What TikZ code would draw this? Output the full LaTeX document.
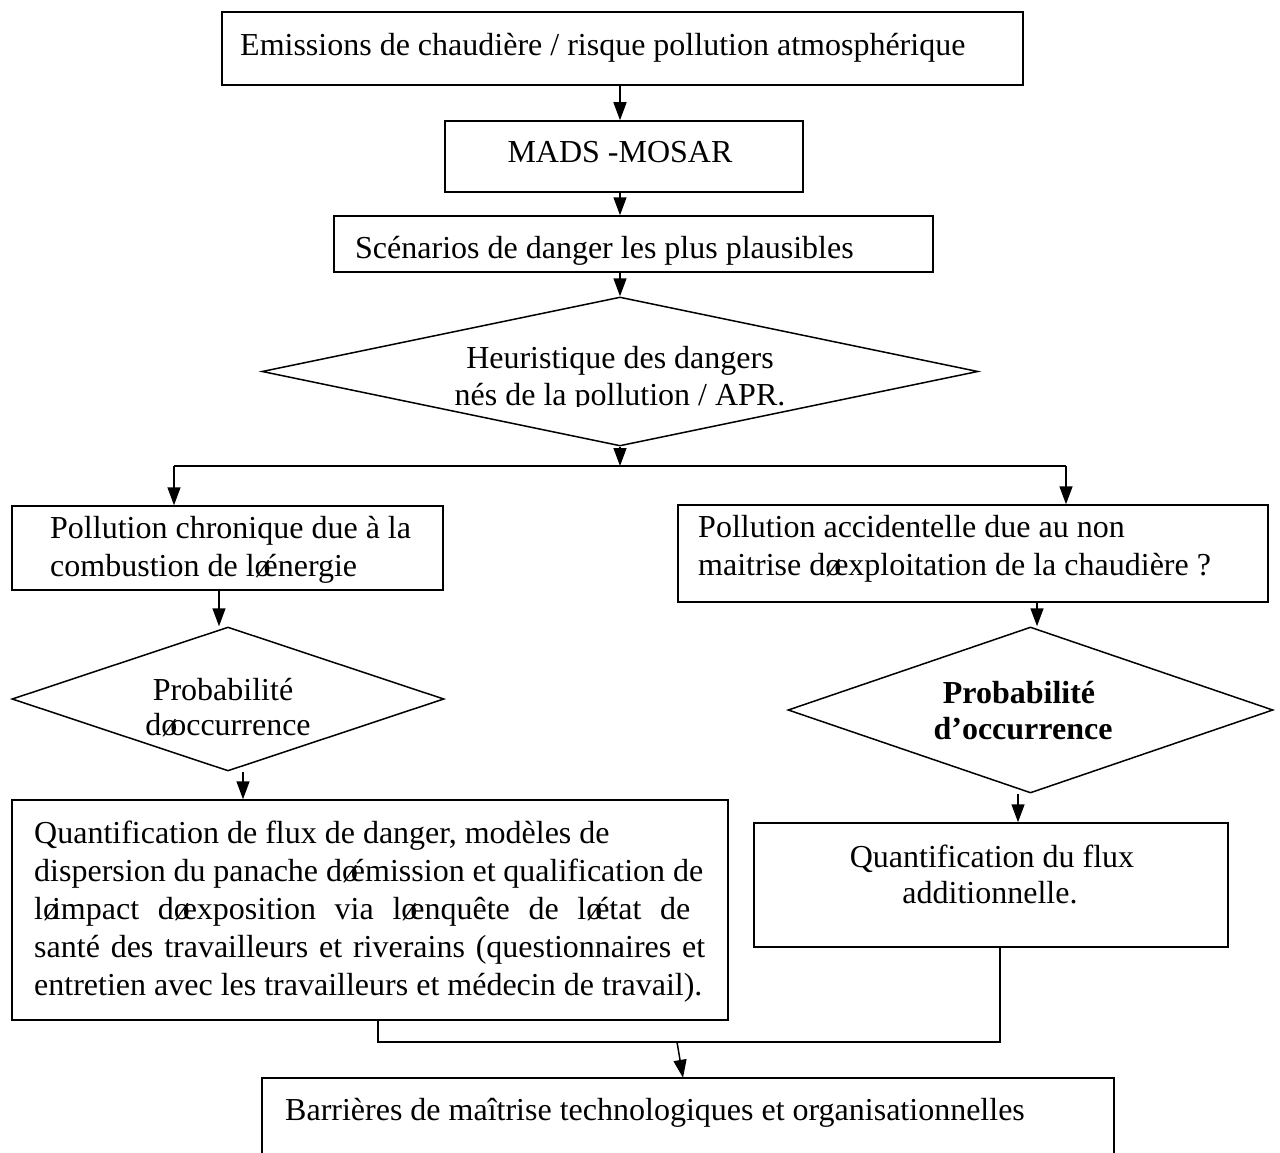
\documentclass[tikz,border=0pt]{standalone}
\usepackage{fontspec}
\setmainfont{Liberation Serif}
\usetikzlibrary{shapes.geometric,arrows.meta}
% slashed-o glyph standing in for the apostrophe, overlapping the next letter
\newcommand\qap{ø\kern-.22em}
\begin{document}
\begin{tikzpicture}[x=1pt,y=-1pt,
  box/.style={draw,line width=1.5pt,rectangle,inner sep=0pt},
  dia/.style={draw,line width=1.5pt,diamond,inner sep=0pt},
  line/.style={line width=1.5pt},
  arr/.style={line width=1.5pt,-{Triangle[width=13pt,length=18pt]}},
  txt/.style={inner sep=0pt,font=\fontsize{32}{38}\selectfont},
]
\useasboundingbox (0,0) rectangle (1280,1153);

% boxes and decisions
\node[box,minimum width=801pt,minimum height=73pt] (b1) at (622.5,48.5) {};
\node[box,minimum width=358pt,minimum height=71pt] (b2) at (624,156.5) {};
\node[box,minimum width=599pt,minimum height=56pt] (b3) at (633.5,244) {};
\node[dia,minimum width=716pt,minimum height=149pt] (d1) at (620,371.5) {};
\node[box,minimum width=431pt,minimum height=84pt] (bA) at (227.5,548) {};
\node[box,minimum width=590pt,minimum height=97pt] (bB) at (973,553.5) {};
\node[dia,minimum width=432pt,minimum height=144pt] (d2) at (228,699) {};
\node[dia,minimum width=485pt,minimum height=166pt] (d3) at (1030.5,710) {};
\node[box,minimum width=716pt,minimum height=220pt] (bC) at (370,910) {};
\node[box,minimum width=474pt,minimum height=124pt] (bD) at (991,885) {};
\node[inner sep=0pt,minimum width=852pt,minimum height=75pt] (bE) at (688,1115.5) {};
\draw[line] (bE.south west) |- (bE.north east) -- (bE.south east);

% texts
\node[txt,anchor=base west] (t1) at (240,56) {Emissions de chaudière / risque pollution atmosphérique};
\node[txt,anchor=base] (t2) at (620,163) {MADS -MOSAR};
\node[txt,anchor=base west] (t3) at (355,258) {Scénarios de danger les plus plausibles};
\node[txt,anchor=base] (t4) at (620,368) {Heuristique des dangers};
\begin{scope}
  \clip (262,300) rectangle (978,406);
  \node[txt,anchor=base] (t5) at (620,405) {nés de la pollution / APR.};
\end{scope}
\node[txt,anchor=base west] (tA1) at (50,538) {Pollution chronique due à la};
\node[txt,anchor=base west] (tA2) at (50,576) {combustion de l\qap énergie};
\node[txt,anchor=base west] (tB1) at (698,537) {Pollution accidentelle due au non};
\node[txt,anchor=base west] (tB2) at (698,575) {maitrise d\qap exploitation de la chaudière ?};
\node[txt,anchor=base] (tD21) at (223,700) {Probabilité};
\node[txt,anchor=base] (tD22) at (228,735) {d\qap occurrence};
\node[txt,anchor=base,font=\fontsize{32}{38}\selectfont\bfseries] (tD31) at (1019,703) {Probabilité};
\node[txt,anchor=base,font=\fontsize{32}{38}\selectfont\bfseries] (tD32) at (1023,739) {d’occurrence};
\node[txt,anchor=base west] (tC1) at (34,843) {Quantification de flux de danger, modèles de};
\node[txt,anchor=base west] (tC2) at (34,881) {\makebox[669pt][s]{dispersion du panache d\qap émission et qualification de}};
\node[txt,anchor=base west] (tC3) at (34,919) {\makebox[656pt][s]{l\qap impact d\qap exposition via l\qap enquête de l\qap état de}};
\node[txt,anchor=base west] (tC4) at (34,957) {\makebox[671pt][s]{santé des travailleurs et riverains (questionnaires et}};
\node[txt,anchor=base west] (tC5) at (34,995) {entretien avec les travailleurs et médecin de travail).};
\node[txt,anchor=base] (tD1) at (992,867) {Quantification du flux};
\node[txt,anchor=base] (tD2) at (990,903) {additionnelle.};
\node[txt,anchor=base west] (tE) at (285,1120) {Barrières de maîtrise technologiques et organisationnelles};

% connectors
\coordinate (axis) at (620,0);
\draw[arr] (b1.south -| axis) -- (b2.north -| axis);
\draw[arr] (b2.south -| axis) -- (b3.north -| axis);
\draw[arr] (b3.south -| axis) -- (d1.north);

\coordinate (split) at (620,466);
\coordinate (la) at (174,466);
\coordinate (ra) at (1066,466);
\draw[arr] (d1.south) -- (split);
\draw[line] (la) -- (ra);
\draw[arr] (la) -- (la |- bA.north);
\draw[arr] (ra) -- (ra |- bB.north);

\coordinate (xa) at (219,0);
\coordinate (xc) at (243,0);
\coordinate (xb) at (1037,0);
\coordinate (xd) at (1018,0);
\draw[arr] (xa |- bA.south) -- (xa |- d2.north);
\draw[arr] (xc |- d2.south) -- (xc |- bC.north);
\draw[arr] (xb |- bB.south) -- (xb |- d3.north);
\draw[arr] (xd |- d3.south) -- (xd |- bD.north);

\coordinate (mc) at (378,1042);
\coordinate (md) at (1000,1042);
\coordinate (me) at (677,1042);
\coordinate (xe) at (683,0);
\draw[line] (mc |- bC.south) -- (mc) -- (md) -- (md |- bD.south);
\draw[arr] (me) -- (xe |- bE.north);
\end{tikzpicture}
\end{document}
